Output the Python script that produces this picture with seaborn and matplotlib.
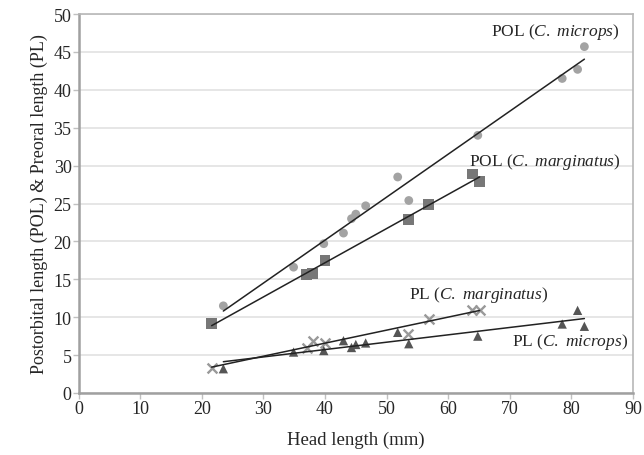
import numpy as np
import pandas as pd
import seaborn as sns
import matplotlib.pyplot as plt

# head length (mm) for each species
hl_microps = [23.5, 34.9, 39.8, 43.0, 44.3, 45.0, 46.6, 51.8, 53.6, 64.8, 78.5, 81.0, 82.1]
pol_microps = [11.5, 16.6, 19.7, 21.1, 23.0, 23.6, 24.7, 28.5, 25.4, 34.0, 41.5, 42.7, 45.7]
pl_microps = [3.2, 5.4, 5.6, 6.9, 6.0, 6.4, 6.6, 8.0, 6.5, 7.5, 9.1, 10.9, 8.8]

hl_marg = [21.6, 37.0, 38.0, 40.0, 53.5, 56.8, 63.9, 65.1]
pol_marg = [9.2, 15.6, 15.8, 17.5, 22.9, 24.9, 28.9, 27.9]
pl_marg = [3.3, 5.9, 6.9, 6.6, 7.8, 9.8, 11.0, 10.9]

sns.set_theme(style="white")
plt.rcParams["font.family"] = ["Liberation Serif", "DejaVu Serif"]
plt.rcParams["mathtext.fontset"] = "custom"
plt.rcParams["mathtext.rm"] = "Liberation Serif"
plt.rcParams["mathtext.it"] = "Liberation Serif:italic"

df = pd.concat([
    pd.DataFrame({"hl": hl_microps, "val": pol_microps, "grp": "POL microps"}),
    pd.DataFrame({"hl": hl_marg, "val": pol_marg, "grp": "POL marginatus"}),
    pd.DataFrame({"hl": hl_marg, "val": pl_marg, "grp": "PL marginatus"}),
    pd.DataFrame({"hl": hl_microps, "val": pl_microps, "grp": "PL microps"}),
])

# marker style per group
styles = {
    "POL microps": dict(marker="o", color="#a3a3a3", s=40, edgecolor="none"),
    "POL marginatus": dict(marker="s", color="#777777", s=60, edgecolor="none"),
    "PL marginatus": dict(marker="x", color="#999999", s=50, linewidth=1.7),
    "PL microps": dict(marker="^", color="#555555", s=45, edgecolor="none"),
}

fig = plt.figure(figsize=(6.44, 4.56), dpi=100)
ax = fig.add_axes([0.122, 0.136, 0.861, 0.831])

for g, st in styles.items():
    d = df[df["grp"] == g]
    sns.scatterplot(data=d, x="hl", y="val", ax=ax, zorder=3, **st)
    sns.regplot(data=d, x="hl", y="val", ax=ax, scatter=False, ci=None,
                color="#222222", line_kws={"linewidth": 1.1, "zorder": 4})

ax.set_xlim(0, 90)
ax.set_ylim(0, 50)
ax.set_xticks(np.arange(0, 91, 10))
ax.set_yticks(np.arange(0, 51, 5))
ax.yaxis.grid(True, color="#e4e4e4", linewidth=1.3)
ax.set_axisbelow(True)

for s in ["left", "bottom"]:
    ax.spines[s].set_color("#a0a0a0")
    ax.spines[s].set_linewidth(1.8)
for s in ["top", "right"]:
    ax.spines[s].set_color("#b8b8b8")
    ax.spines[s].set_linewidth(1.2)

ax.tick_params(axis="both", labelsize=13, length=4, width=1, color="#c0c0c0",
               direction="out", pad=1, left=True, bottom=True)

ax.set_xlabel("Head length (mm)", fontsize=13.5, labelpad=10)
ax.set_ylabel("Postorbital length (POL) & Preoral length (PL)", fontsize=13, labelpad=4)

# curve labels
ax.text(87.8, 47.8, r"POL ($\mathit{C.\ microps}$)", fontsize=12.5, ha="right", va="center")
ax.text(88.0, 30.6, r"POL ($\mathit{C.\ marginatus}$)", fontsize=12.5, ha="right", va="center")
ax.text(53.7, 13.1, r"PL ($\mathit{C.\ marginatus}$)", fontsize=12.5, ha="left", va="center")
ax.text(70.4, 6.9, r"PL ($\mathit{C.\ microps}$)", fontsize=12.5, ha="left", va="center")

fig.savefig("out.png", dpi=100)
plt.close(fig)
